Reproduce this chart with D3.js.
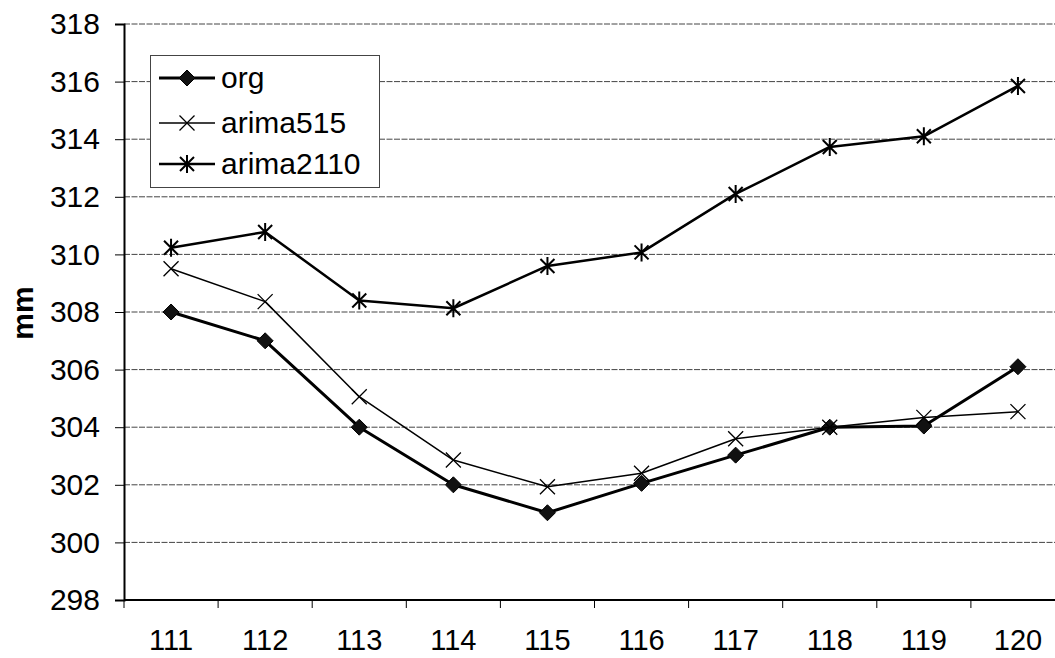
<!DOCTYPE html>
<html>
<head>
<meta charset="utf-8">
<script src="https://cdn.jsdelivr.net/npm/d3@7"></script>
<style>
  html, body { margin: 0; padding: 0; background: #fff; }
  svg { display: block; font-family: "Liberation Sans", Arial, sans-serif; }
</style>
</head>
<body>
<svg id="chart" width="1055" height="658"></svg>
<script>
// Periods on the x axis
const categories = ["111", "112", "113", "114", "115", "116", "117", "118", "119", "120"];
// Observed and forecast values (mm)
const org       = [308.0, 307.0, 304.0, 302.0, 301.03, 302.05, 303.03, 304.0, 304.04, 306.1];
const arima515  = [309.5, 308.36, 305.06, 302.86, 301.93, 302.4, 303.6, 304.0, 304.34, 304.54];
const arima2110 = [310.23, 310.78, 308.4, 308.13, 309.6, 310.07, 312.1, 313.73, 314.1, 315.85];
const yTicks = [298, 300, 302, 304, 306, 308, 310, 312, 314, 316, 318];
const seriesNames = ["org", "arima515", "arima2110"];

const series = [
  { name: seriesNames[0], values: org,       width: 3,   marker: "diamond" },
  { name: seriesNames[1], values: arima515,  width: 1.5, marker: "x" },
  { name: seriesNames[2], values: arima2110, width: 2.5, marker: "star" }
];

const svg = d3.select("#chart");
const plotLeft = 124, plotRight = 1065, plotTop = 24, plotBottom = 600;

const x = d3.scaleBand().domain(categories).range([plotLeft, plotRight]);
const y = d3.scaleLinear().domain([298, 318]).range([plotBottom, plotTop]);

// Horizontal gridlines
svg.append("g")
  .selectAll("line")
  .data(yTicks.filter(v => v > 298))
  .join("line")
  .attr("x1", plotLeft).attr("x2", plotRight)
  .attr("y1", d => y(d)).attr("y2", d => y(d))
  .attr("stroke", "#444")
  .attr("stroke-width", 1)
  .attr("stroke-dasharray", "6,1.5");

// Y axis
const yAxis = d3.axisLeft(y).tickValues(yTicks).tickSize(9).tickPadding(15).tickFormat(d3.format("d"));
const gy = svg.append("g").attr("transform", `translate(${plotLeft},0)`).call(yAxis);
gy.select(".domain").attr("stroke", "#000").attr("stroke-width", 2);
gy.selectAll(".tick line").attr("stroke", "#000").attr("stroke-width", 1);
gy.selectAll(".tick text")
  .attr("font-size", 30).attr("fill", "#000")
  .attr("font-family", "'Liberation Sans', Arial, sans-serif");

// X axis: ticks at band boundaries, labels at band centres
const gx = svg.append("g").attr("transform", `translate(0,${plotBottom})`);
gx.append("line").attr("x1", plotLeft).attr("x2", plotRight).attr("y1", 0).attr("y2", 0)
  .attr("stroke", "#000").attr("stroke-width", 2);
gx.selectAll("line.tk")
  .data(categories)
  .join("line")
  .attr("class", "tk")
  .attr("x1", d => x(d)).attr("x2", d => x(d))
  .attr("y1", 0).attr("y2", 8)
  .attr("stroke", "#000").attr("stroke-width", 1);
gx.selectAll("text")
  .data(categories)
  .join("text")
  .attr("x", d => x(d) + x.bandwidth() / 2)
  .attr("y", 50)
  .attr("text-anchor", "middle")
  .attr("font-size", 29)
  .attr("fill", "#000")
  .text(d => d);

// Y axis title
svg.append("text")
  .attr("transform", "translate(33,313) rotate(-90)")
  .attr("text-anchor", "middle")
  .attr("font-size", 30)
  .attr("font-weight", "bold")
  .attr("fill", "#000")
  .text("mm");

// Marker shapes
function drawMarker(g, type, cx, cy) {
  if (type === "diamond") {
    g.append("path")
      .attr("d", `M${cx},${cy - 8}L${cx + 8},${cy}L${cx},${cy + 8}L${cx - 8},${cy}Z`)
      .attr("fill", "#111").attr("stroke", "#000").attr("stroke-width", 1);
  } else if (type === "x") {
    const r = 7.5;
    g.append("path")
      .attr("d", `M${cx - r},${cy - r}L${cx + r},${cy + r}M${cx - r},${cy + r}L${cx + r},${cy - r}`)
      .attr("stroke", "#000").attr("stroke-width", 1.3).attr("fill", "none");
  } else {
    const r = 7;
    g.append("path")
      .attr("d", `M${cx - r},${cy - r}L${cx + r},${cy + r}M${cx - r},${cy + r}L${cx + r},${cy - r}M${cx},${cy - 9}L${cx},${cy + 9}`)
      .attr("stroke", "#000").attr("stroke-width", 2).attr("fill", "none");
  }
}

const line = d3.line()
  .x((d, i) => x(categories[i]) + x.bandwidth() / 2)
  .y(d => y(d));

const plot = svg.append("g");
series.forEach(s => {
  plot.append("path")
    .datum(s.values)
    .attr("d", line)
    .attr("fill", "none")
    .attr("stroke", "#000")
    .attr("stroke-width", s.width)
    .attr("stroke-linejoin", "round");
  const mg = plot.append("g");
  s.values.forEach((v, i) => {
    drawMarker(mg, s.marker, x(categories[i]) + x.bandwidth() / 2, y(v));
  });
});

// Legend
const lg = svg.append("g");
lg.append("rect")
  .attr("x", 150.5).attr("y", 55.5)
  .attr("width", 229).attr("height", 132)
  .attr("fill", "#fff")
  .attr("stroke", "#444").attr("stroke-width", 1);
const rowsY = [78, 123, 164];
series.forEach((s, i) => {
  const ly = rowsY[i];
  lg.append("line")
    .attr("x1", 159).attr("x2", 215)
    .attr("y1", ly).attr("y2", ly)
    .attr("stroke", "#000").attr("stroke-width", s.width);
  drawMarker(lg, s.marker, 187, ly);
  lg.append("text")
    .attr("x", 221).attr("y", ly + 10)
    .attr("font-size", 30)
    .attr("fill", "#000")
    .text(s.name);
});
</script>
</body>
</html>
